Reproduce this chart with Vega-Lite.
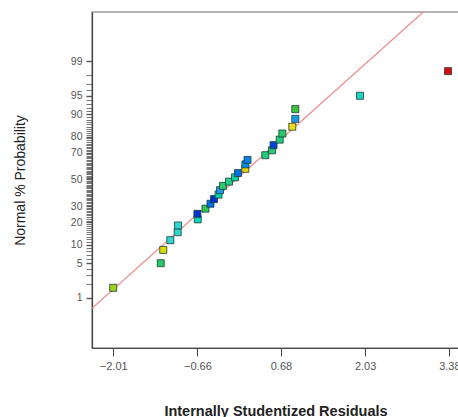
{
  "$schema": "https://vega.github.io/schema/vega-lite/v6.json",
  "width": 367,
  "height": 336,
  "autosize": {"type": "none"},
  "padding": {"left": 92, "top": 12, "right": 0, "bottom": 69},
  "background": "white",
  "config": {
    "view": {"stroke": "#9a9a9a", "strokeWidth": 1.5},
    "font": "Liberation Sans"
  },
  "layer": [
    {
      "data": {"values": [
        {"residual": -2.35, "z": -2.53},
        {"residual": 3.535, "z": 3.917}
      ]},
      "mark": {"type": "line", "color": "#f08c8c", "strokeWidth": 1.3, "clip": true},
      "encoding": {
        "x": {"field": "residual", "type": "quantitative"},
        "y": {"field": "z", "type": "quantitative"}
      }
    },
    {
      "data": {"values": [
        {"run": 1, "residual": -2.01, "z": -2.128, "level": 0.6},
        {"run": 2, "residual": -1.248, "z": -1.645, "level": 0.45},
        {"run": 3, "residual": -1.207, "z": -1.383, "level": 0.68},
        {"run": 4, "residual": -1.094, "z": -1.192, "level": 0.3},
        {"run": 5, "residual": -0.976, "z": -1.036, "level": 0.3},
        {"run": 6, "residual": -0.97, "z": -0.903, "level": 0.3},
        {"run": 7, "residual": -0.655, "z": -0.783, "level": 0.34},
        {"run": 8, "residual": -0.66, "z": -0.674, "level": 0.02},
        {"run": 9, "residual": -0.53, "z": -0.573, "level": 0.47},
        {"run": 10, "residual": -0.45, "z": -0.477, "level": 0.12},
        {"run": 11, "residual": -0.394, "z": -0.385, "level": 0.02},
        {"run": 12, "residual": -0.321, "z": -0.297, "level": 0.36},
        {"run": 13, "residual": -0.297, "z": -0.21, "level": 0.2},
        {"run": 14, "residual": -0.249, "z": -0.126, "level": 0.45},
        {"run": 15, "residual": -0.153, "z": -0.042, "level": 0.4},
        {"run": 16, "residual": -0.057, "z": 0.042, "level": 0.38},
        {"run": 17, "residual": -0.009, "z": 0.126, "level": 0.12},
        {"run": 18, "residual": 0.108, "z": 0.21, "level": 0.72},
        {"run": 19, "residual": 0.11, "z": 0.297, "level": 0.18},
        {"run": 20, "residual": 0.144, "z": 0.385, "level": 0.15},
        {"run": 21, "residual": 0.429, "z": 0.477, "level": 0.42},
        {"run": 22, "residual": 0.536, "z": 0.573, "level": 0.43},
        {"run": 23, "residual": 0.561, "z": 0.674, "level": 0.05},
        {"run": 24, "residual": 0.66, "z": 0.783, "level": 0.42},
        {"run": 25, "residual": 0.702, "z": 0.903, "level": 0.45},
        {"run": 26, "residual": 0.862, "z": 1.036, "level": 0.7},
        {"run": 27, "residual": 0.91, "z": 1.192, "level": 0.2},
        {"run": 28, "residual": 0.91, "z": 1.383, "level": 0.5},
        {"run": 29, "residual": 1.948, "z": 1.645, "level": 0.32},
        {"run": 30, "residual": 3.359, "z": 2.128, "level": 1.0}
      ]},
      "mark": {"type": "point", "shape": "square", "filled": true, "size": 49, "opacity": 1, "stroke": "#1f3b3b", "strokeWidth": 0.8},
      "encoding": {
        "x": {
          "field": "residual", "type": "quantitative",
          "scale": {"domain": [-2.35, 3.535], "nice": false, "zero": false},
          "axis": {
            "title": "Internally Studentized Residuals",
            "values": [-2.01, -0.66, 0.68, 2.03, 3.38],
            "format": ".2f",
            "grid": false,
            "labelFlush": false,
            "labelFontSize": 11,
            "labelColor": "#555555",
            "labelPadding": 4,
            "tickSize": 8,
            "tickColor": "#444444",
            "domainColor": "#444444",
            "domainWidth": 1.2,
            "titleFontSize": 14.5,
            "titleFontWeight": "bold",
            "titleColor": "#222222",
            "titleY": 63,
            "titleBaseline": "middle"
          }
        },
        "y": {
          "field": "z", "type": "quantitative",
          "scale": {"domain": [-3.31, 3.29], "nice": false, "zero": false},
          "axis": {
            "title": "Normal % Probability",
            "tickCount": 1000,
            "values": [-2.3263,-2.0537,-1.8808,-1.7507,-1.6449,-1.5548,-1.4758,-1.4051,-1.3408,-1.2816,-1.2265,-1.175,-1.1264,-1.0803,-1.0364,-0.9945,-0.9542,-0.9154,-0.8779,-0.8416,-0.8064,-0.7722,-0.7388,-0.7063,-0.6745,-0.6433,-0.6128,-0.5828,-0.5534,-0.5244,-0.4959,-0.4677,-0.4399,-0.4125,-0.3853,-0.3585,-0.3319,-0.3055,-0.2793,-0.2533,-0.2275,-0.2019,-0.1764,-0.151,-0.1257,-0.1004,-0.0753,-0.0502,-0.0251,0,0.0251,0.0502,0.0753,0.1004,0.1257,0.151,0.1764,0.2019,0.2275,0.2533,0.2793,0.3055,0.3319,0.3585,0.3853,0.4125,0.4399,0.4677,0.4959,0.5244,0.5534,0.5828,0.6128,0.6433,0.6745,0.7063,0.7388,0.7722,0.8064,0.8416,0.8779,0.9154,0.9542,0.9945,1.0364,1.0803,1.1264,1.175,1.2265,1.2816,1.3408,1.4051,1.4758,1.5548,1.6449,1.7507,1.8808,2.0537,2.3263],
            "labelExpr": "indexof([1,5,10,20,30,50,70,80,90,95,99], round(cumulativeNormal(datum.value)*100)) >= 0 ? format(round(cumulativeNormal(datum.value)*100), 'd') : ''",
            "labelOverlap": false,
            "labelFlush": false,
            "labelBound": false,
            "grid": false,
            "labelFontSize": 10.5,
            "labelColor": "#555555",
            "labelPadding": 4,
            "tickSize": 6,
            "tickWidth": {"condition": {"test": "indexof([1,5,10,20,30,50,70,80,90,95,99], round(cumulativeNormal(datum.value)*100)) >= 0", "value": 1.4}, "value": 0.8},
            "tickColor": "#555555",
            "domainColor": "#444444",
            "domainWidth": 1.2,
            "titleFontSize": 14,
            "titleFontWeight": "normal",
            "titleColor": "#222222",
            "titleX": -72,
            "titleBaseline": "middle"
          }
        },
        "color": {
          "field": "level", "type": "quantitative",
          "scale": {
            "domain": [0, 0.2, 0.3, 0.4, 0.5, 0.7, 1],
            "range": ["#0a1fc8", "#1c9be6", "#2fd6d0", "#22cf88", "#3cc43a", "#ecdc10", "#dd0a0a"]
          },
          "legend": null
        }
      }
    }
  ]
}
